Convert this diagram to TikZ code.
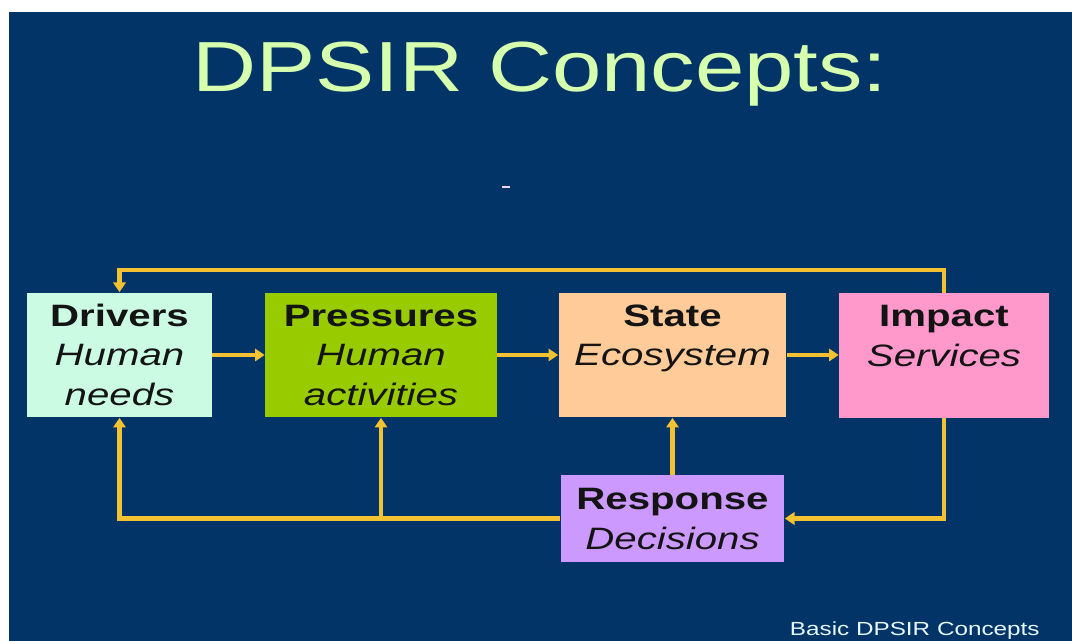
\documentclass[tikz,border=0pt]{standalone}
\usepackage{fontspec}
\setmainfont{Liberation Sans}
\usepackage{graphicx}
\usetikzlibrary{arrows.meta}
\usetikzlibrary{positioning}
\definecolor{FondSlide}{HTML}{023468}
\definecolor{TitreSlide}{HTML}{D6FFAE}
\definecolor{FlecheJaune}{HTML}{F2C232}
\definecolor{CouleurDrivers}{HTML}{CCFBE4}
\definecolor{CouleurPressures}{HTML}{99CC00}
\definecolor{CouleurState}{HTML}{FFCC99}
\definecolor{CouleurImpact}{HTML}{FF99CC}
\definecolor{CouleurResponse}{HTML}{CC99FF}
% texte etire horizontalement comme sur la diapositive
\newcommand{\slidetext}[1]{\raisebox{-1.7pt}[\height][\depth]{\scalebox{1.3}[1]{\begin{tabular}{@{}c@{}}#1\end{tabular}}}}
\tikzset{
	dpsirbox/.style={inner sep=0pt, text=black!92, font=\fontsize{17.6}{22.7}\selectfont},
	flow/.style={color=FlecheJaune, line width=2.3pt, arrows={-Triangle[length=5.5pt, width=7pt]}}
}
\begin{document}
\begin{tikzpicture}[x=0.02cm, y=-0.02cm]
    % fond de la diapositive
    \useasboundingbox (0,0) rectangle (1072,641);
    \fill[white] (0,0) rectangle (1072,641);
    \fill[FondSlide] (9,12) rectangle (1072,641);
    \node[anchor=base, text=TitreSlide, font=\fontsize{40.4}{48}\selectfont] (titre) at (540,92) {\scalebox{1.25}[1]{DPSIR Concepts:}};
    \draw[white!60!CouleurResponse, line width=1.5pt] (502,187) -- (510,187);
    % les cinq boites
    \node[dpsirbox, fill=CouleurDrivers, minimum width=3.7cm, minimum height=2.5cm] (drivers) at (119.5,355) {\slidetext{\textbf{Drivers}\\ \textit{Human}\\ \textit{needs}}};
    \node[dpsirbox, fill=CouleurPressures, minimum width=4.64cm, minimum height=2.5cm] (pressures) at (381,355) {\slidetext{\textbf{Pressures}\\ \textit{Human}\\ \textit{activities}}};
    \node[dpsirbox, fill=CouleurState, minimum width=4.56cm, minimum height=2.5cm] (state) at (672.5,355) {\slidetext{\textbf{State}\\ \textit{Ecosystem}\\ \mbox{}}};
    \node[dpsirbox, fill=CouleurImpact, minimum width=4.2cm, minimum height=2.5cm] (impact) at (944,355.5) {\slidetext{\textbf{Impact}\\ \textit{Services}\\ \mbox{}}};
    \node[dpsirbox, fill=CouleurResponse, minimum width=4.48cm, minimum height=1.74cm] (response) at (672.5,518.5) {\slidetext{\textbf{Response}\\ \textit{Decisions}}};
    % fleches de la chaine
    \foreach \a/\b in {drivers/pressures, pressures/state, state/impact} {
        \draw[flow] (\a.east) -- (\b.west |- \a.east);
    }
    % boucle du haut
    \coordinate (haut) at (0,270);
    \draw[flow] (impact.north) -- (impact.north |- haut) -| (drivers.north);
    % boucles du bas
    \draw[flow] (impact.south) |- (response.east);
    \draw[flow] (response.west) -| (drivers.south);
    \coordinate (branche) at (pressures.south |- response.west);
    \draw[flow] (branche) -- (pressures.south);
    \draw[flow] (response.north) -- (state.south);
    \node[anchor=base east, inner sep=0pt, text=white!90!cyan, font=\fontsize{10.8}{13}\selectfont] (pied) at (1040,636) {\scalebox{1.28}[1]{Basic DPSIR Concepts}};
\end{tikzpicture}
\end{document}
